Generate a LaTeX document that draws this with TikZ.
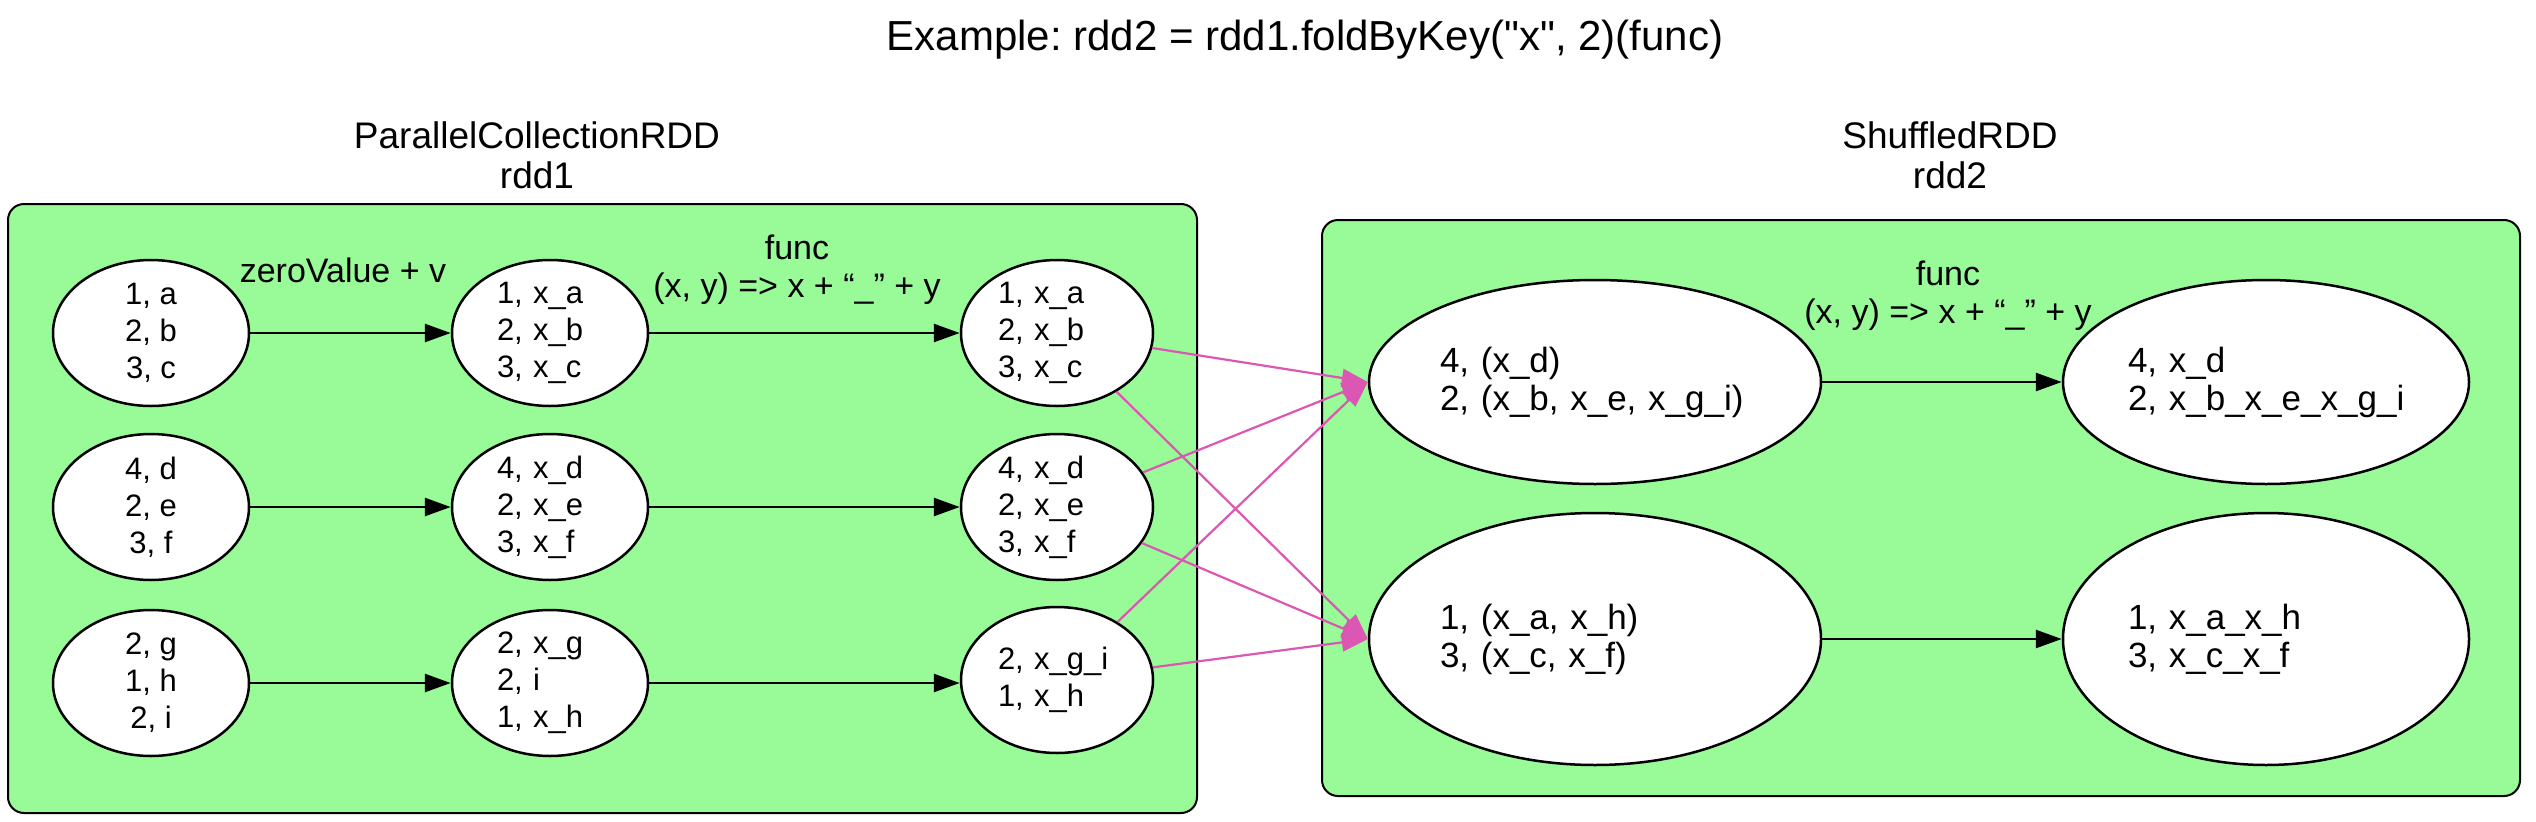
\documentclass[tikz,border=0pt]{standalone}
\usepackage{fontspec}
\setmainfont{Liberation Sans}
\usetikzlibrary{arrows.meta,shapes.geometric}
\definecolor{pg}{HTML}{98FB98}
\definecolor{pk}{HTML}{DB57B3}
\frenchspacing
\begin{document}
\begin{tikzpicture}[x=1pt,y=-1pt,
  cluster/.style={draw=black, line width=2pt, fill=pg, rounded corners=16pt},
  lnode/.style={ellipse, draw, line width=2.5pt, fill=white, inner sep=0pt, minimum width=196pt, minimum height=146pt, align=center, font=\fontsize{31}{37}\selectfont},
  lnodel/.style={lnode, align=left, text width=106pt},
  lnoder/.style={lnode, align=left, text width=118pt, minimum width=192pt},
  rnode/.style={ellipse, draw, line width=2.5pt, fill=white, inner sep=0pt, align=left, font=\fontsize{35}{38}\selectfont},
  blk/.style={line width=2.7pt, -{Triangle[length=26pt,width=18pt]}},
  pnk/.style={draw=pk, line width=2.2pt, -{Triangle[length=26pt,width=18pt]}, fill=pk},
  lbl/.style={font=\fontsize{34}{38}\selectfont, align=center, inner sep=0pt},
  clbl/.style={font=\fontsize{37}{40}\selectfont, align=center, inner sep=0pt},
]
\useasboundingbox (0,0) rectangle (2536,822);
% title
\node[font=\fontsize{42}{50}\selectfont, anchor=base, inner sep=0pt] (title) at (1305,50) {Example: rdd2 = rdd1.foldByKey(\textquotedbl x\textquotedbl, 2)(func)};
% clusters
\draw[cluster] (8,204) rectangle (1197,813);
\draw[cluster] (1322,220) rectangle (2520,796);
\node[clbl] (cl1) at (537,155) {ParallelCollectionRDD\\rdd1};
\node[clbl] (cl2) at (1950,155) {ShuffledRDD\\rdd2};
% left nodes
\node[lnode] (c11) at (151,333) {1, a\\2, b\\3, c};
\node[lnode] (c21) at (151,507) {4, d\\2, e\\3, f};
\node[lnode] (c31) at (151,683) {2, g\\1, h\\2, i};
\node[lnodel] (c12) at (550,333) {1, x\_a\\2, x\_b\\3, x\_c};
\node[lnodel] (c22) at (550,507) {4, x\_d\\2, x\_e\\3, x\_f};
\node[lnodel] (c32) at (550,683) {2, x\_g\\2, i\\1, x\_h};
\node[lnoder] (c13) at (1057,333) {1, x\_a\\2, x\_b\\3, x\_c};
\node[lnoder] (c23) at (1057,507) {4, x\_d\\2, x\_e\\3, x\_f};
\node[lnoder] (c33) at (1057,680) {2, x\_g\_i\\1, x\_h};
% right nodes
\node[rnode, minimum width=452pt, minimum height=204pt, text width=310pt] (r1) at (1595,382) {4, (x\_d)\\2, (x\_b, x\_e, x\_g\_i)};
\node[rnode, minimum width=406pt, minimum height=204pt, text width=276pt] (r1b) at (2266,382) {4, x\_d\\\mbox{2, x\_b\_x\_e\_x\_g\_i}};
\node[rnode, minimum width=452pt, minimum height=252pt, text width=310pt] (r2) at (1595,639) {1, (x\_a, x\_h)\\3, (x\_c, x\_f)};
\node[rnode, minimum width=406pt, minimum height=252pt, text width=276pt] (r2b) at (2266,639) {1, x\_a\_x\_h\\3, x\_c\_x\_f};
% edge labels
\node[lbl] (e1) at (343,270) {zeroValue + v};
\node[lbl] (e2) at (797,270) {func\\(x, y) => x + “\_” + y};
\node[lbl] (e3) at (1948,296) {func\\(x, y) => x + “\_” + y};
% black edges
\draw[blk] (c11) -- (c12);
\draw[blk] (c21) -- (c22);
\draw[blk] (c31) -- (c32);
\draw[blk] (c12) -- (c13);
\draw[blk] (c22) -- (c23);
\draw[blk] (c32) -- (c33.west |- c32);
\draw[blk] (r1) -- (r1b);
\draw[blk] (r2) -- (r2b);
% pink edges
\draw[pnk] (c13) -- (r1.west);
\draw[pnk] (c13) -- (r2.west);
\draw[pnk] (c23) -- (r1.west);
\draw[pnk] (c23) -- (r2.west);
\draw[pnk] (c33) -- (r1.west);
\draw[pnk] (c33) -- (r2.west);
\end{tikzpicture}
\end{document}
